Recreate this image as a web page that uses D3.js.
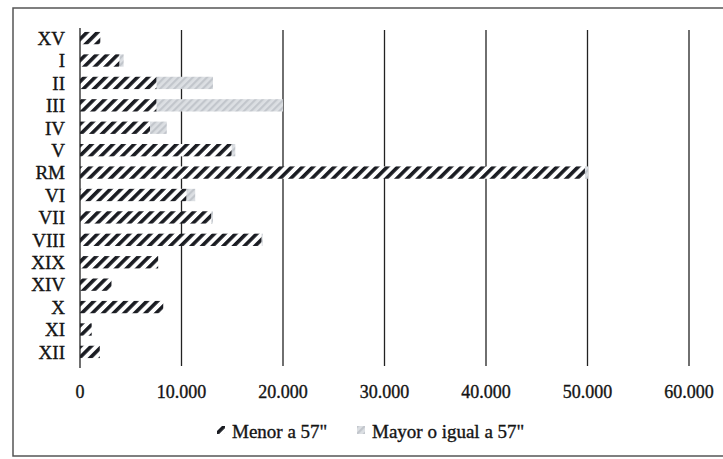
<!DOCTYPE html>
<html>
<head>
<meta charset="utf-8">
<script src="https://cdn.jsdelivr.net/npm/d3@7"></script>
<style>
  body { margin: 0; background: #fff; }
  svg text { font-family: "Liberation Serif", "DejaVu Serif", serif; fill: #141414; stroke: #141414; stroke-width: 0.35px; }
</style>
</head>
<body>
<svg id="chart" width="723" height="459"></svg>
<script>
// regiones, de arriba hacia abajo
var regiones = ["XV", "I", "II", "III", "IV", "V", "RM", "VI", "VII", "VIII", "XIX", "XIV", "X", "XI", "XII"];
var menor57 = [2000, 3900, 7550, 7550, 6900, 14950, 49750, 10500, 12950, 17900, 7700, 3100, 8200, 1150, 1950];
var mayor57 = [0, 400, 5550, 12450, 1650, 350, 300, 850, 150, 100, 0, 0, 0, 0, 0];
var ticks = [0, 10000, 20000, 30000, 40000, 50000, 60000];
var series = ["Menor a 57\"", "Mayor o igual a 57\""];

var svg = d3.select("#chart");
var defs = svg.append("defs");

// rayado oscuro
var p1 = defs.append("pattern").attr("id", "hatchDark")
  .attr("patternUnits", "userSpaceOnUse").attr("width", 7.5).attr("height", 7.5)
  .attr("patternTransform", "rotate(45)");
p1.append("rect").attr("width", 7.5).attr("height", 7.5).attr("fill", "#fff");
p1.append("rect").attr("width", 3.6).attr("height", 7.5).attr("fill", "#1a1c22");

// rayado claro
var p2 = defs.append("pattern").attr("id", "hatchLight")
  .attr("patternUnits", "userSpaceOnUse").attr("width", 5).attr("height", 5)
  .attr("patternTransform", "rotate(45)");
p2.append("rect").attr("width", 5).attr("height", 5).attr("fill", "#dcdfe3");
p2.append("rect").attr("width", 2.2).attr("height", 5).attr("fill", "#c2c6cc");

// marco
svg.append("rect").attr("x", 13).attr("y", 8).attr("width", 720).attr("height", 448)
  .attr("fill", "none").attr("stroke", "#555").attr("stroke-width", 1.5);

var x = d3.scaleLinear().domain([0, 60000]).range([80, 689]);
var y = d3.scaleBand().domain(regiones).range([27, 363]).paddingInner(0.45).paddingOuter(0.22);

// lineas de grilla
svg.append("g").selectAll("line").data(ticks.slice(1)).enter().append("line")
  .attr("x1", function(d) { return x(d); }).attr("x2", function(d) { return x(d); })
  .attr("y1", 30).attr("y2", 366)
  .attr("stroke", "#222").attr("stroke-width", 1.3);

var stack = d3.stack().keys(["menor", "mayor"])(regiones.map(function(r, i) {
  return { region: r, menor: menor57[i], mayor: mayor57[i] };
}));
var fills = ["url(#hatchDark)", "url(#hatchLight)"];

svg.append("g").selectAll("g").data(stack).enter().append("g")
  .attr("fill", function(d, i) { return fills[i]; })
  .selectAll("rect").data(function(d) { return d; }).enter().append("rect")
  .attr("x", function(d) { return x(d[0]); })
  .attr("y", function(d) { return y(d.data.region); })
  .attr("width", function(d) { return x(d[1]) - x(d[0]); })
  .attr("height", y.bandwidth());

// eje de categorias
svg.append("line").attr("x1", 80).attr("x2", 80).attr("y1", 28).attr("y2", 368)
  .attr("stroke", "#222").attr("stroke-width", 1.3);

svg.append("g").selectAll("text").data(regiones).enter().append("text")
  .attr("x", 65)
  .attr("y", function(d) { return y(d) + y.bandwidth() / 2; })
  .attr("dy", "0.36em")
  .attr("text-anchor", "end")
  .style("font-size", "19px")
  .text(function(d) { return d; });

// etiquetas eje x
var fmt = function(d) { return d3.format(",")(d).replace(/,/g, "."); };
svg.append("g").selectAll("text").data(ticks).enter().append("text")
  .attr("x", function(d) { return x(d); })
  .attr("y", 398)
  .attr("text-anchor", "middle")
  .style("font-size", "18px")
  .text(fmt);

// leyenda
var leg = svg.append("g").attr("transform", "translate(217,431)");
var items = [{ x: 0, fill: "url(#hatchDark)" }, { x: 140, fill: "url(#hatchLight)" }];
items.forEach(function(it, i) {
  leg.append("rect").attr("x", it.x).attr("y", -5).attr("width", 8).attr("height", 8).attr("fill", it.fill);
  leg.append("text").attr("x", it.x + 15).attr("y", 0).attr("dy", "0.35em")
    .style("font-size", "19px").text(series[i]);
});
</script>
</body>
</html>
